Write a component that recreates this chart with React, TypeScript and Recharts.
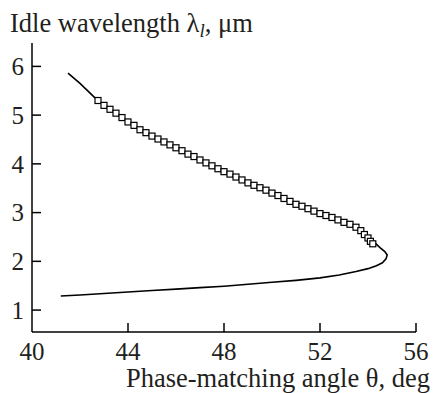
import React from "react";
import { ComposedChart, Line, Scatter, XAxis, YAxis, Label } from "recharts";

// calculated phase-matching curve (angle, deg / idle wavelength, um), in drawing order
const curveTheta = [
  41.5, 42.0, 42.7, 43.5, 44.3, 45.2, 46.3, 47.7, 49.0, 50.7, 52.0, 52.8, 53.4,
  53.9, 54.2, 54.5, 54.7, 54.8, 54.75, 54.6, 54.35, 54.0, 53.5, 52.8, 52.0,
  51.0, 50.0, 49.0, 48.0, 47.0, 46.0, 45.0, 44.0, 43.0, 42.0, 41.2,
];
const curveLambda = [
  5.86, 5.65, 5.32, 5.03, 4.77, 4.52, 4.26, 3.88, 3.6, 3.22, 2.98, 2.84, 2.71,
  2.56, 2.42, 2.28, 2.2, 2.13, 2.05, 1.97, 1.91, 1.85, 1.79, 1.72, 1.66, 1.61,
  1.57, 1.53, 1.49, 1.46, 1.43, 1.4, 1.37, 1.34, 1.31, 1.29,
];

// measured points
const expTheta = [
  42.75, 43.0, 43.25, 43.5, 43.75, 44.0, 44.25, 44.5, 44.75, 45.0, 45.25, 45.5,
  45.75, 46.0, 46.25, 46.5, 46.75, 47.0, 47.25, 47.5, 47.75, 48.0, 48.25, 48.5,
  48.75, 49.0, 49.25, 49.5, 49.75, 50.0, 50.25, 50.5, 50.75, 51.0, 51.25, 51.5,
  51.75, 52.0, 52.25, 52.5, 52.75, 53.0, 53.25, 53.5, 53.7, 53.85, 54.0, 54.1,
  54.2,
];
const expLambda = [
  5.3, 5.2, 5.12, 5.04, 4.95, 4.86, 4.79, 4.7, 4.64, 4.57, 4.51, 4.45, 4.39,
  4.33, 4.27, 4.2, 4.15, 4.08, 4.02, 3.96, 3.9, 3.84, 3.79, 3.73, 3.67, 3.61,
  3.56, 3.51, 3.46, 3.4, 3.35, 3.29, 3.23, 3.17, 3.13, 3.08, 3.03, 2.98, 2.94,
  2.9, 2.85, 2.8, 2.76, 2.7, 2.63, 2.55, 2.48, 2.41, 2.36,
];

const xTicks = [40, 44, 48, 52, 56];
const yTicks = [1, 2, 3, 4, 5, 6];

const curve = curveTheta.map((x, i) => ({ x, y: curveLambda[i] }));
const points = expTheta.map((x, i) => ({ x, y: expLambda[i] }));

const textStyle = { fontFamily: '"Liberation Serif", "DejaVu Serif", serif', fill: "#231f20" };

// eslint-disable-next-line @typescript-eslint/no-explicit-any
const YTick = (props: any) => {
  const { x, y, payload } = props;
  return (
    <g>
      <line x1={x + 8} x2={x + 17} y1={y} y2={y} stroke="#000" strokeWidth={1.5} />
      <text x={x} y={y} dy="0.35em" textAnchor="end" fontSize={25} style={textStyle}>
        {payload.value}
      </text>
    </g>
  );
};

// eslint-disable-next-line @typescript-eslint/no-explicit-any
const XTick = (props: any) => {
  const { x, y, payload } = props;
  return (
    <g>
      {payload.value !== 40 && (
        <line x1={x} x2={x} y1={y} y2={y - 9} stroke="#000" strokeWidth={1.5} />
      )}
      <text x={x} y={y + 28} textAnchor="middle" fontSize={25} style={textStyle}>
        {payload.value}
      </text>
    </g>
  );
};

// eslint-disable-next-line @typescript-eslint/no-explicit-any
const SquareDot = (props: any) => {
  const { cx, cy } = props;
  return (
    <rect x={cx - 3} y={cy - 3} width={6} height={6} fill="#fff" stroke="#000" strokeWidth={1.2} />
  );
};

export default function App() {
  return (
    <div style={{ position: "absolute", left: 0, top: 0, background: "#fff" }}>
      <ComposedChart
        width={433}
        height={393}
        margin={{ top: 43, right: 17, bottom: 0, left: 0 }}
      >
        <XAxis
          type="number"
          dataKey="x"
          domain={[40, 56]}
          ticks={xTicks}
          tickSize={0}
          tickMargin={0}
          tickLine={false}
          tick={<XTick />}
          height={61}
          axisLine={{ stroke: "#000", strokeWidth: 1.5 }}
          allowDataOverflow
        >
          <Label
            content={(p: any) => {
              const vb = p.viewBox;
              return (
                <text
                  x={vb.x + vb.width + 14}
                  y={vb.y + 55}
                  textAnchor="end"
                  fontSize={26.5}
                  style={textStyle}
                >
                  Phase-matching angle θ, deg
                </text>
              );
            }}
          />
        </XAxis>
        <YAxis
          type="number"
          dataKey="y"
          domain={[0.55, 6.48]}
          ticks={yTicks}
          width={32}
          tickSize={0}
          tickMargin={8}
          tickLine={false}
          tick={<YTick />}
          axisLine={{ stroke: "#000", strokeWidth: 1.5 }}
          allowDataOverflow
        >
          <Label
            content={(p: any) => {
              const vb = p.viewBox;
              return (
                <text x={vb.x + 10} y={vb.y - 11} fontSize={26.5} style={textStyle}>
                  Idle wavelength λ
                  <tspan fontStyle="italic" fontSize={19} dy={5}>l</tspan>
                  <tspan dy={-5}>, μm</tspan>
                </text>
              );
            }}
          />
        </YAxis>
        <Line
          data={curve}
          dataKey="y"
          type="linear"
          stroke="#000"
          strokeWidth={1.6}
          dot={false}
          activeDot={false}
          isAnimationActive={false}
        />
        <Scatter data={points} dataKey="y" shape={<SquareDot />} isAnimationActive={false} />
      </ComposedChart>
    </div>
  );
}
